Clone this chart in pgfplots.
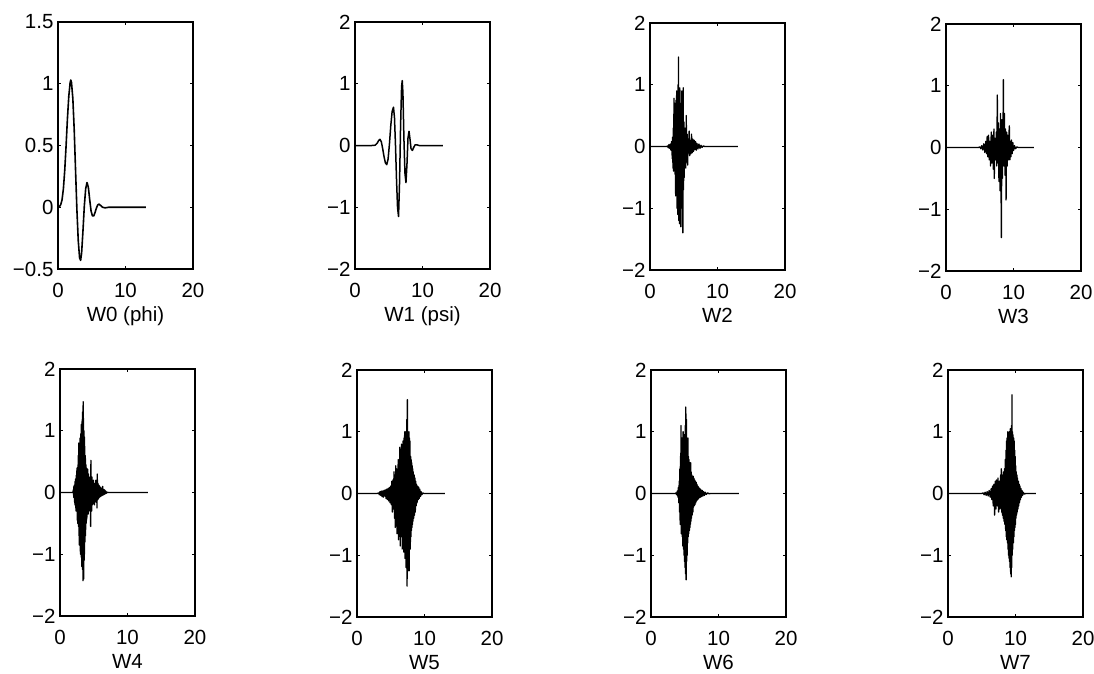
\documentclass[border=0pt]{standalone}
\usepackage{fontspec}
\setmainfont{Liberation Sans}
\usepackage{pgfplots}
\pgfplotsset{compat=1.18}
\pgfplotsset{
  wp/.style={
    scale only axis, width=135pt, height=247pt,
    anchor=south west,
    xmin=0, xmax=20, xtick={0,10,20}, xticklabels={0,10,20},
    ymin=-2, ymax=2, ytick={-2,-1,0,1,2}, yticklabels={−2,−1,0,1,2},
    tick align=inside, major tick length=3pt,
    axis line style={line width=1.2pt},
    every tick/.style={black, line width=0.7pt},
    tick label style={font=\fontsize{20.5}{23}\selectfont},
    xticklabel style={anchor=base, yshift=-28pt},
    yticklabel style={xshift=-1pt},
    xlabel style={font=\fontsize{20.5}{23}\selectfont, inner sep=0pt, at={(axis description cs:0.5,0)}, anchor=base, yshift=-52pt},
  },
  wl/.style={black, line width=1.3pt, line join=round, no markers},
}
\begin{document}
\begin{tikzpicture}
\useasboundingbox (0,0) rectangle (1094pt,673pt);
% ---------- W0 ----------
\begin{axis}[wp, at={(58pt,404pt)}, ymin=-0.5, ymax=1.5, ytick={-0.5,0,0.5,1,1.5}, yticklabels={−0.5,0,0.5,1,1.5}, xlabel={W0 (phi)}]
\addplot[wl, line width=1.6pt] coordinates {
(0,0) (0.2,0.005) (0.4,0.02) (0.6,0.06) (0.8,0.15) (1.0,0.30) (1.2,0.50) (1.4,0.72) (1.6,0.90) (1.8,1.01) (1.9,1.03) (2.0,1.01) (2.2,0.88) (2.4,0.63) (2.6,0.30) (2.8,-0.02) (3.0,-0.27) (3.2,-0.41) (3.35,-0.43) (3.5,-0.37) (3.7,-0.19) (3.9,0.01) (4.1,0.15) (4.3,0.20) (4.5,0.16) (4.7,0.06) (4.9,-0.03) (5.1,-0.07) (5.3,-0.07) (5.5,-0.04) (5.7,-0.005) (5.9,0.02) (6.1,0.025) (6.3,0.015) (6.6,0.0) (7.0,-0.005) (7.5,0.0) (13,0)
};
\end{axis}
% ---------- W1 ----------
\begin{axis}[wp, at={(355pt,404pt)}, xlabel={W1 (psi)}]
\addplot[wl, line width=1.5pt] coordinates {
(0,0) (2.5,0) (3.0,0.005) (3.3,0.04) (3.5,0.08) (3.7,0.10) (3.9,0.06) (4.1,-0.05) (4.3,-0.18) (4.5,-0.28) (4.7,-0.31) (4.9,-0.22) (5.1,0.02) (5.3,0.32) (5.5,0.55) (5.7,0.62) (5.85,0.45) (6.0,0.0) (6.15,-0.55) (6.3,-1.0) (6.45,-1.15) (6.6,-0.6) (6.75,0.3) (6.9,0.95) (7.0,1.05) (7.1,0.85) (7.25,0.1) (7.4,-0.45) (7.55,-0.6) (7.7,-0.3) (7.85,0.12) (8.0,0.23) (8.15,0.1) (8.3,-0.05) (8.5,-0.08) (8.7,-0.03) (8.9,0.01) (9.2,0.01) (9.5,0) (13,0)
};
\end{axis}
% ---------- W2 ----------
\begin{axis}[wp, at={(650pt,403pt)}, xlabel={W2}]
\addplot[wl] coordinates {
(0,0) (2.5,0) (2.6,0.01) (2.7,-0.02) (2.8,0.03) (2.9,-0.03) (3.0,0.04) (3.1,-0.06) (3.2,0.08) (3.3,-0.2) (3.35,0.15) (3.4,-0.35) (3.45,0.3) (3.5,-0.4) (3.55,0.78) (3.6,-0.3) (3.65,0.7) (3.7,-0.45) (3.75,0.6) (3.8,-0.8) (3.85,0.75) (3.9,-0.2) (3.95,0.9) (4.0,-1.0) (4.05,0.65) (4.1,-1.1) (4.15,1.0) (4.2,-0.6) (4.22,1.45) (4.27,-1.2) (4.32,0.8) (4.37,-1.25) (4.42,0.95) (4.47,-0.9) (4.52,0.6) (4.57,-1.3) (4.62,0.7) (4.67,-0.5) (4.72,0.9) (4.77,-1.0) (4.82,0.3) (4.87,-1.4) (4.92,0.95) (4.97,-0.7) (5.02,0.4) (5.07,-0.5) (5.12,0.3) (5.17,-0.2) (5.22,0.15) (5.3,-0.35) (5.37,0.5) (5.44,-0.25) (5.5,0.2) (5.58,-0.3) (5.65,0.12) (5.72,-0.1) (5.8,0.25) (5.88,-0.15) (5.95,0.1) (6.05,-0.12) (6.15,0.2) (6.25,-0.1) (6.35,0.12) (6.45,-0.08) (6.55,0.1) (6.65,-0.05) (6.75,0.08) (6.85,-0.06) (6.95,0.05) (7.1,-0.04) (7.25,0.04) (7.4,-0.03) (7.55,0.02) (7.7,-0.015) (7.9,0.01) (8.1,0) (13,0)
};
\end{axis}
% ---------- W3 ----------
\begin{axis}[wp, at={(946pt,402pt)}, xlabel={W3}]
\addplot[wl] coordinates {
(0,0) (4.8,0) (5.0,0.01) (5.15,-0.02) (5.3,0.03) (5.45,-0.04) (5.6,0.06) (5.75,-0.08) (5.9,0.1) (6.0,-0.1) (6.1,0.18) (6.2,-0.15) (6.3,0.2) (6.4,-0.2) (6.5,0.1) (6.6,-0.3) (6.7,0.25) (6.8,-0.25) (6.9,0.2) (7.0,-0.35) (7.1,0.3) (7.15,-0.5) (7.25,0.15) (7.35,-0.2) (7.45,0.25) (7.52,-0.3) (7.6,0.85) (7.68,-0.25) (7.76,0.4) (7.84,-0.55) (7.92,0.3) (8.0,-0.7) (8.08,0.55) (8.14,-0.4) (8.2,-1.46) (8.28,0.45) (8.36,-0.5) (8.44,0.2) (8.5,1.1) (8.58,-0.3) (8.66,0.55) (8.74,-0.45) (8.82,0.3) (8.9,-0.85) (8.98,0.25) (9.06,-0.3) (9.14,0.2) (9.22,-0.2) (9.3,0.15) (9.38,0.35) (9.46,-0.2) (9.54,0.1) (9.62,-0.15) (9.7,0.12) (9.8,-0.1) (9.9,0.08) (10.0,-0.05) (10.15,0.03) (10.3,-0.02) (10.5,0.01) (10.7,0) (13,0)
};
\end{axis}
% ---------- W4 ----------
\begin{axis}[wp, at={(60pt,57pt)}, xlabel={W4}]
\addplot[wl] coordinates {
(0,0) (1.9,0) (2.00,0.05) (2.03,-0.08) (2.06,0.1) (2.09,-0.06) (2.12,0.12) (2.15,-0.15) (2.18,0.1) (2.21,-0.2) (2.24,0.18) (2.27,-0.12) (2.30,0.22) (2.33,-0.25) (2.36,0.2) (2.39,-0.3) (2.42,0.28) (2.45,-0.22) (2.48,0.35) (2.51,-0.3) (2.54,0.4) (2.57,-0.45) (2.60,0.3) (2.63,-0.5) (2.66,0.45) (2.69,-0.35) (2.72,0.6) (2.75,-0.55) (2.78,0.8) (2.81,-0.7) (2.84,0.5) (2.87,-0.85) (2.90,0.75) (2.93,-0.6) (2.96,0.88) (2.99,-0.95) (3.02,0.7) (3.05,-1.0) (3.08,0.95) (3.11,-0.8) (3.14,1.1) (3.17,-1.05) (3.20,0.9) (3.23,-1.2) (3.26,1.15) (3.29,-0.95) (3.32,1.3) (3.35,-1.25) (3.38,1.1) (3.41,-1.43) (3.43,1.47) (3.46,-1.3) (3.49,1.2) (3.52,-1.4) (3.55,1.0) (3.58,-1.1) (3.61,0.9) (3.64,-1.0) (3.67,0.75) (3.70,-0.8) (3.73,0.6) (3.76,-0.7) (3.79,0.55) (3.82,-0.6) (3.85,0.45) (3.88,-0.5) (3.91,0.4) (3.94,-0.45) (3.97,0.35) (4.00,-0.4) (4.03,0.3) (4.06,-0.35) (4.09,0.38) (4.12,-0.3) (4.15,0.25) (4.18,-0.35) (4.21,0.3) (4.24,-0.25) (4.27,0.2) (4.30,-0.3) (4.34,0.25) (4.38,-0.2) (4.42,0.18) (4.46,-0.25) (4.50,0.2) (4.54,-0.55) (4.58,0.52) (4.62,-0.2) (4.66,0.15) (4.70,-0.3) (4.75,0.25) (4.80,-0.2) (4.85,0.18) (4.90,-0.15) (4.95,0.2) (5.00,-0.18) (5.06,0.15) (5.12,-0.2) (5.18,0.12) (5.24,-0.15) (5.30,0.2) (5.36,-0.1) (5.42,0.12) (5.48,-0.25) (5.52,0.3) (5.58,-0.12) (5.64,0.15) (5.70,-0.1) (5.76,0.12) (5.82,-0.08) (5.88,0.1) (5.94,-0.07) (6.00,0.08) (6.08,-0.06) (6.16,0.07) (6.24,-0.05) (6.32,0.1) (6.40,-0.04) (6.48,0.05) (6.56,-0.03) (6.64,0.04) (6.72,-0.02) (6.80,0.02) (6.90,-0.01) (7.00,0.005) (7.2,0) (13,0)
};
\end{axis}
% ---------- W5 ----------
\begin{axis}[wp, at={(357pt,56pt)}, xlabel={W5}]
\addplot[wl] coordinates {
(0,0) (3.0,0) (3.2,0.01) (3.3,-0.02) (3.4,0.03) (3.5,-0.03) (3.6,0.04) (3.7,-0.05) (3.8,0.04) (3.9,-0.06) (4.0,0.05) (4.1,-0.04) (4.2,0.06) (4.3,-0.08) (4.4,0.07) (4.5,-0.1) (4.6,0.08) (4.7,-0.12) (4.8,0.1) (4.9,-0.15) (5.0,0.12) (5.08,-0.18) (5.16,0.2) (5.24,-0.3) (5.32,0.22) (5.40,-0.25) (5.48,0.35) (5.56,-0.4) (5.62,0.3) (5.68,-0.55) (5.74,0.45) (5.80,-0.35) (5.86,0.4) (5.92,-0.65) (5.98,0.3) (6.04,-0.5) (6.10,0.55) (6.16,-0.75) (6.22,0.5) (6.28,-0.6) (6.34,0.75) (6.40,-0.85) (6.46,0.6) (6.52,-0.7) (6.58,0.8) (6.62,-0.5) (6.66,0.7) (6.70,-0.9) (6.74,0.75) (6.78,-0.6) (6.82,0.85) (6.86,-0.8) (6.90,0.65) (6.94,-0.95) (6.98,0.9) (7.02,-0.7) (7.06,1.0) (7.10,-1.05) (7.14,0.8) (7.18,-0.9) (7.22,1.0) (7.26,-1.2) (7.30,0.95) (7.34,-1.0) (7.38,1.2) (7.42,-1.5) (7.46,1.52) (7.50,-1.1) (7.54,1.0) (7.58,-1.25) (7.62,0.95) (7.66,-1.0) (7.70,1.0) (7.74,-1.25) (7.78,0.9) (7.82,-0.8) (7.86,0.85) (7.90,-0.9) (7.94,0.6) (7.98,-0.7) (8.02,0.55) (8.06,-0.6) (8.10,0.5) (8.14,-0.55) (8.18,0.45) (8.22,-0.5) (8.26,0.4) (8.30,-0.45) (8.34,0.35) (8.40,-0.4) (8.46,0.3) (8.52,-0.35) (8.58,0.25) (8.64,-0.3) (8.70,0.2) (8.76,-0.2) (8.82,0.15) (8.90,-0.15) (8.98,0.12) (9.06,-0.1) (9.14,0.1) (9.22,-0.08) (9.30,0.07) (9.40,-0.05) (9.50,0.03) (9.60,-0.02) (9.75,0.01) (9.9,0) (13,0)
};
\end{axis}
% ---------- W6 ----------
\begin{axis}[wp, at={(651pt,56pt)}, xlabel={W6}]
\addplot[wl] coordinates {
(0,0) (3.6,0) (3.7,0.01) (3.8,-0.02) (3.9,0.04) (4.0,-0.06) (4.06,0.1) (4.12,-0.15) (4.18,0.2) (4.24,-0.3) (4.28,0.4) (4.32,-0.5) (4.36,0.6) (4.40,-0.4) (4.44,1.1) (4.48,-0.65) (4.52,0.8) (4.56,-0.6) (4.60,0.9) (4.64,-0.7) (4.68,0.75) (4.72,-0.85) (4.76,1.0) (4.80,-0.9) (4.84,0.8) (4.88,-1.0) (4.92,0.95) (4.96,-1.1) (5.00,0.9) (5.04,-1.2) (5.08,1.1) (5.12,-1.3) (5.16,1.4) (5.20,-1.4) (5.24,1.2) (5.28,-1.1) (5.32,0.9) (5.36,-1.0) (5.40,0.85) (5.44,-0.8) (5.48,0.9) (5.52,-0.7) (5.56,0.6) (5.60,-0.65) (5.64,0.55) (5.68,-0.6) (5.72,0.5) (5.76,-0.55) (5.80,0.45) (5.84,-0.5) (5.88,0.5) (5.92,-0.45) (5.96,0.35) (6.00,-0.4) (6.05,0.3) (6.10,-0.35) (6.15,0.25) (6.20,-0.3) (6.25,0.28) (6.30,-0.22) (6.35,0.25) (6.40,-0.2) (6.46,0.22) (6.52,-0.18) (6.58,0.2) (6.64,-0.15) (6.70,0.18) (6.76,-0.12) (6.82,0.15) (6.88,-0.1) (6.94,0.12) (7.00,-0.09) (7.08,0.1) (7.16,-0.07) (7.24,0.08) (7.32,-0.06) (7.40,0.06) (7.50,-0.05) (7.60,0.05) (7.70,-0.04) (7.80,0.03) (7.92,-0.03) (8.04,0.02) (8.2,-0.015) (8.4,0.01) (8.6,-0.005) (8.8,0) (13,0)
};
\end{axis}
% ---------- W7 ----------
\begin{axis}[wp, at={(948pt,56pt)}, xlabel={W7}]
\addplot[wl] coordinates {
(0,0) (5.0,0) (5.2,0.01) (5.35,-0.02) (5.5,0.02) (5.65,-0.03) (5.8,0.03) (5.95,-0.04) (6.1,0.05) (6.25,-0.06) (6.4,0.08) (6.5,-0.1) (6.6,0.12) (6.7,-0.2) (6.8,0.15) (6.9,-0.35) (7.0,0.2) (7.1,-0.25) (7.2,0.22) (7.3,-0.2) (7.4,0.25) (7.5,-0.3) (7.6,0.2) (7.7,-0.25) (7.8,0.3) (7.85,-0.2) (7.9,0.4) (7.95,-0.3) (8.0,0.25) (8.06,-0.35) (8.12,0.3) (8.18,-0.4) (8.24,0.35) (8.30,-0.45) (8.36,0.4) (8.42,-0.5) (8.48,0.55) (8.54,-0.6) (8.60,0.7) (8.64,-0.7) (8.68,0.85) (8.72,-0.75) (8.76,0.9) (8.80,-0.8) (8.84,1.0) (8.88,-0.9) (8.92,0.85) (8.96,-1.0) (9.00,0.95) (9.04,-1.05) (9.08,1.0) (9.12,-1.1) (9.16,0.9) (9.20,-1.2) (9.24,1.05) (9.28,-1.3) (9.32,0.95) (9.36,-1.35) (9.40,1.1) (9.44,-1.2) (9.48,1.6) (9.52,-1.0) (9.56,1.0) (9.60,-0.9) (9.64,0.95) (9.68,-0.8) (9.72,0.9) (9.76,-0.7) (9.80,0.85) (9.84,-0.6) (9.88,0.7) (9.92,-0.55) (9.96,0.6) (10.00,-0.5) (10.04,0.45) (10.08,-0.4) (10.12,0.35) (10.16,-0.35) (10.20,0.3) (10.24,-0.3) (10.30,0.25) (10.36,-0.25) (10.42,0.2) (10.48,-0.2) (10.54,0.15) (10.60,-0.15) (10.66,0.12) (10.72,-0.1) (10.80,0.08) (10.88,-0.06) (10.96,0.05) (11.05,-0.03) (11.15,0.02) (11.3,-0.01) (11.5,0) (13,0)
};
\end{axis}
\end{tikzpicture}
\end{document}
